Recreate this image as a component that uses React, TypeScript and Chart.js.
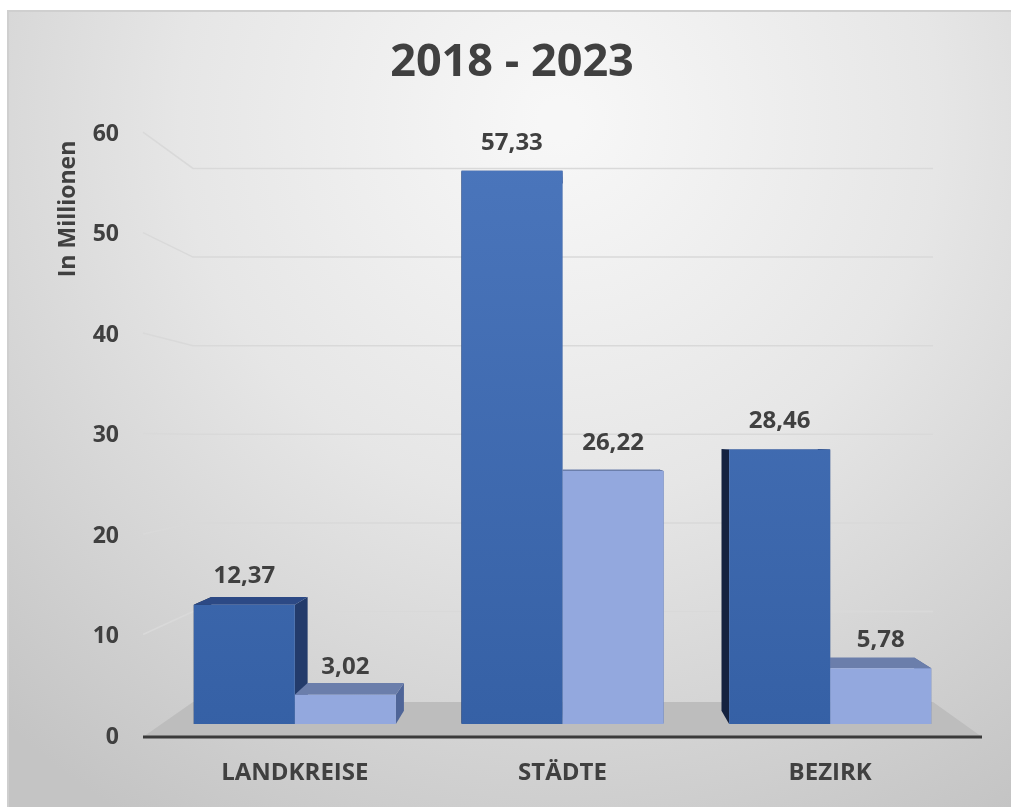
import React, { useEffect, useRef } from "react";
import { Chart, registerables } from "chart.js";

Chart.register(...registerables);

// ---- data ----
const titleText = "2018 - 2023";
const yAxisTitle = "In Millionen";
const categories = ["LANDKREISE", "STÄDTE", "BEZIRK"];
const seriesA = [12.37, 57.33, 28.46];
const seriesB = [3.02, 26.22, 5.78];
const tickValues = [0, 10, 20, 30, 40, 50, 60];

// ---- style / geometry constants ----
const TEXT = "#404040";
const FONT = "'Open Sans', 'DejaVu Sans', sans-serif";
const VP = { x: 567, y: 440 }; // vanishing point of the 3D projection
const WALL_DEPTH = 0.882; // back wall relative to front frame
const BAR_DEPTH = 0.953; // bar back face relative to bar front face
const FRAME_OVERHANG = 18;

const fmt = (v: number) => v.toFixed(2).replace(".", ",");

const proj = (x: number, y: number, f: number): [number, number] => [
  VP.x + f * (x - VP.x),
  VP.y + f * (y - VP.y),
];

const faceColors = [
  { top: "#2c4985", right: "#233b6b", left: "#15223f" },
  { top: "#6b7eab", right: "#4f6598", left: "#3d4f7e" },
];

function poly(ctx: CanvasRenderingContext2D, pts: [number, number][], fill: string) {
  ctx.beginPath();
  ctx.moveTo(pts[0][0], pts[0][1]);
  for (let i = 1; i < pts.length; i++) ctx.lineTo(pts[i][0], pts[i][1]);
  ctx.closePath();
  ctx.fillStyle = fill;
  ctx.fill();
}

const scenePlugin = {
  id: "scene3d",
  beforeDraw(chart: any) {
    const { ctx, chartArea, width, height } = chart;
    const y2 = chart.scales.y2;
    ctx.save();
    // page + chart background
    ctx.fillStyle = "#ffffff";
    ctx.fillRect(0, 0, width, height);
    const g = ctx.createRadialGradient(560, 120, 20, 560, 120, 820);
    g.addColorStop(0, "#f7f7f7");
    g.addColorStop(0.45, "#e6e6e6");
    g.addColorStop(1, "#c4c4c4");
    ctx.fillStyle = g;
    ctx.fillRect(7, 10, width - 7, height - 10);
    ctx.strokeStyle = "#cfcfcf";
    ctx.lineWidth = 2;
    ctx.beginPath();
    ctx.moveTo(8, height);
    ctx.lineTo(8, 11);
    ctx.lineTo(width, 11);
    ctx.stroke();

    const FL = chartArea.left - FRAME_OVERHANG;
    const FR = chartArea.right + FRAME_OVERHANG;
    const y0 = y2.getPixelForValue(0);

    // floor
    poly(
      ctx,
      [[FL, y0], proj(FL, y0, WALL_DEPTH), proj(FR, y0, WALL_DEPTH), [FR, y0]],
      "#bdbdbd"
    );

    // gridlines: side wall diagonal + back wall
    ctx.strokeStyle = "#d9d9d9";
    ctx.lineWidth = 1.5;
    tickValues.forEach((v) => {
      if (v === 0) return;
      const yf = y2.getPixelForValue(v) - 2;
      const bl = proj(FL, yf, WALL_DEPTH);
      const br = proj(FR, yf, WALL_DEPTH);
      ctx.beginPath();
      ctx.moveTo(FL, yf);
      ctx.lineTo(bl[0], bl[1]);
      ctx.lineTo(br[0], br[1]);
      ctx.stroke();
    });

    // front axis line
    ctx.strokeStyle = "#3a3a3a";
    ctx.lineWidth = 3;
    ctx.beginPath();
    ctx.moveTo(FL, y0);
    ctx.lineTo(FR, y0);
    ctx.stroke();

    // y axis title
    ctx.fillStyle = TEXT;
    ctx.font = `bold 23px ${FONT}`;
    ctx.textAlign = "center";
    ctx.textBaseline = "middle";
    ctx.translate(68, 209);
    ctx.rotate(-Math.PI / 2);
    ctx.fillText(yAxisTitle, 0, 0);
    ctx.restore();
  },
  beforeDatasetsDraw(chart: any) {
    const { ctx } = chart;
    ctx.save();
    const metas = [0, 1].map((i) => chart.getDatasetMeta(i));
    // side faces first
    metas.forEach((meta: any, di: number) => {
      meta.data.forEach((b: any) => {
        const xl = b.x - b.width / 2;
        const xr = b.x + b.width / 2;
        const yt = b.y;
        const yb = b.base;
        poly(ctx, [[xr, yt], [xr, yb], proj(xr, yb, BAR_DEPTH), proj(xr, yt, BAR_DEPTH)], faceColors[di].right);
        poly(ctx, [[xl, yt], [xl, yb], proj(xl, yb, BAR_DEPTH), proj(xl, yt, BAR_DEPTH)], faceColors[di].left);
      });
    });
    // top faces
    metas.forEach((meta: any, di: number) => {
      meta.data.forEach((b: any) => {
        const xl = b.x - b.width / 2;
        const xr = b.x + b.width / 2;
        const yt = b.y;
        poly(ctx, [[xl, yt], [xr, yt], proj(xr, yt, BAR_DEPTH), proj(xl, yt, BAR_DEPTH)], faceColors[di].top);
      });
    });
    ctx.restore();
  },
  afterDatasetsDraw(chart: any) {
    const { ctx } = chart;
    ctx.save();
    ctx.fillStyle = TEXT;
    ctx.font = `bold 24px ${FONT}`;
    ctx.textAlign = "center";
    ctx.textBaseline = "middle";
    chart.data.datasets.forEach((ds: any, di: number) => {
      chart.getDatasetMeta(di).data.forEach((b: any, i: number) => {
        ctx.fillText(fmt(ds.data[i]), b.x, b.y - 28);
      });
    });
    ctx.restore();
  },
};

export default function App() {
  const ref = useRef<HTMLCanvasElement | null>(null);
  useEffect(() => {
    if (!ref.current) return;
    const gradA = (c: any) => {
      const { chart } = c;
      const area = chart.chartArea;
      if (!area) return "#3f69b0";
      const g = chart.ctx.createLinearGradient(0, area.top + 50, 0, area.bottom);
      g.addColorStop(0, "#4a75bb");
      g.addColorStop(1, "#3560a5");
      return g;
    };
    const chart = new Chart(ref.current, {
      type: "bar",
      data: {
        labels: categories,
        datasets: [
          {
            label: "A",
            data: seriesA,
            backgroundColor: gradA,
            yAxisID: "y",
            categoryPercentage: 0.755,
            barPercentage: 1,
          },
          {
            label: "B",
            data: seriesB,
            backgroundColor: "#93a8de",
            yAxisID: "y",
            categoryPercentage: 0.755,
            barPercentage: 1,
          },
        ],
      },
      options: {
        animation: false,
        responsive: false,
        layout: { padding: { left: 60, right: 47, top: 0, bottom: 0 } },
        plugins: {
          legend: { display: false },
          tooltip: { enabled: false },
          title: {
            display: true,
            text: titleText,
            color: TEXT,
            font: { family: FONT, size: 45, weight: "bold", lineHeight: 1.2 },
            padding: { top: 36, bottom: 24 },
          },
        },
        scales: {
          x: {
            grid: { display: false, drawTicks: false },
            border: { display: false },
            ticks: {
              color: TEXT,
              font: { family: FONT, size: 24, weight: "bold" },
              padding: 22,
            },
            afterFit: (s: any) => {
              s.height = 70;
            },
          },
          y: {
            display: false,
            min: -1.347,
            max: 63.22,
          },
          y2: {
            position: "left",
            min: 0,
            max: 62,
            grid: { display: false, drawTicks: false },
            border: { display: false },
            ticks: {
              color: TEXT,
              font: { family: FONT, size: 23, weight: "bold" },
              padding: 42,
            },
            afterBuildTicks: (s: any) => {
              s.ticks = tickValues.map((v) => ({ value: v }));
            },
            afterFit: (s: any) => {
              s.width = 101;
            },
          },
        },
      },
      plugins: [scenePlugin],
    });
    return () => chart.destroy();
  }, []);
  return (
    <div style={{ position: "fixed", left: 0, top: 0, width: 1011, height: 807 }}>
      <canvas ref={ref} width={1011} height={807} style={{ display: "block" }} />
    </div>
  );
}
